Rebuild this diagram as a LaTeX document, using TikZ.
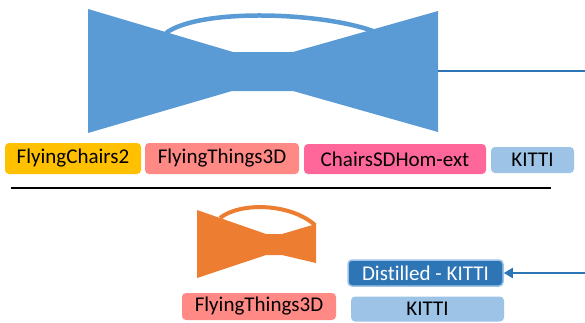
\documentclass[tikz,border=0pt]{standalone}
\usepackage{fontspec}
\setmainfont[Ligatures=NoCommon]{Carlito}
\usetikzlibrary{arrows.meta}

\definecolor{netblue}{HTML}{5B9BD5}
\definecolor{linkblue}{HTML}{2E75B6}
\definecolor{netorange}{HTML}{ED7D31}
\definecolor{tagGold}{HTML}{FFC000}
\definecolor{tagSalmon}{HTML}{FF8985}
\definecolor{tagPink}{HTML}{FF6699}
\definecolor{tagSky}{HTML}{9DC3E6}

\tikzset{
  tag/.style={rounded corners=4pt, inner sep=0pt, font=\fontsize{21}{24}\selectfont,
              text=black, anchor=center},
  link/.style={draw=linkblue, line width=2pt},
}

\begin{document}
\begin{tikzpicture}[x=1pt,y=-1pt]
\useasboundingbox (0,0) rectangle (585,322);

% teacher network (large bow-tie with skip arc)
\draw[netblue, line width=4.5pt] (166,33) .. controls (200,8) and (320,12) .. (373,31);
\fill[netblue] (88,9) -- (233,52) -- (293,52) -- (438,11) -- (438,132)
  -- (293,91) -- (232,91) -- (88,133) -- cycle;
\coordinate (bowR) at (438,71);
\coordinate (offR) at (600,71);

% training schedule of the teacher
\node[tag, fill=tagGold,   minimum width=136pt, minimum height=31pt] (fc2)  at (73,158.5)  {FlyingChairs2};
\node[tag, fill=tagSalmon, minimum width=154pt, minimum height=31pt] (ft3d) at (222,158.5) {FlyingThings3D};
\node[tag, fill=tagPink,   minimum width=182pt, minimum height=30pt] (csdh) at (395,159)   {ChairsSDHom-ext};
\node[tag, fill=tagSky,    minimum width=83pt,  minimum height=26pt] (kit)  at (532.5,160) {KITTI};

% separator
\coordinate (sepL) at (11,188);
\coordinate (sepR) at (551,188);
\draw[black, line width=2.5pt] (sepL) -- (sepR);

% student network (small bow-tie with skip arc)
\draw[netorange, line width=4pt] (220,218) .. controls (240,202) and (290,203) .. (315,225);
\fill[netorange] (197,210) -- (266,234) -- (282,234) -- (316,224) -- (316,263)
  -- (282,255) -- (266,255) -- (197,278) -- cycle;

% training schedule of the student
\node[tag, fill=tagSalmon, minimum width=154pt, minimum height=27pt] (ft3dS) at (259,306.5) {FlyingThings3D};
\node[tag, fill=linkblue, draw=tagSky, line width=1.5pt, text=white,
      minimum width=155pt, minimum height=26pt] (dist) at (425.5,273) {Distilled - KITTI};
\node[tag, fill=tagSky,    minimum width=153pt, minimum height=25pt] (kitS) at (427.5,309) {KITTI};

% teacher output feeds the distilled labels
\draw[link, -{Triangle[length=9pt,width=10pt]}] (bowR) -- (offR) |- (dist.east);
\end{tikzpicture}
\end{document}
